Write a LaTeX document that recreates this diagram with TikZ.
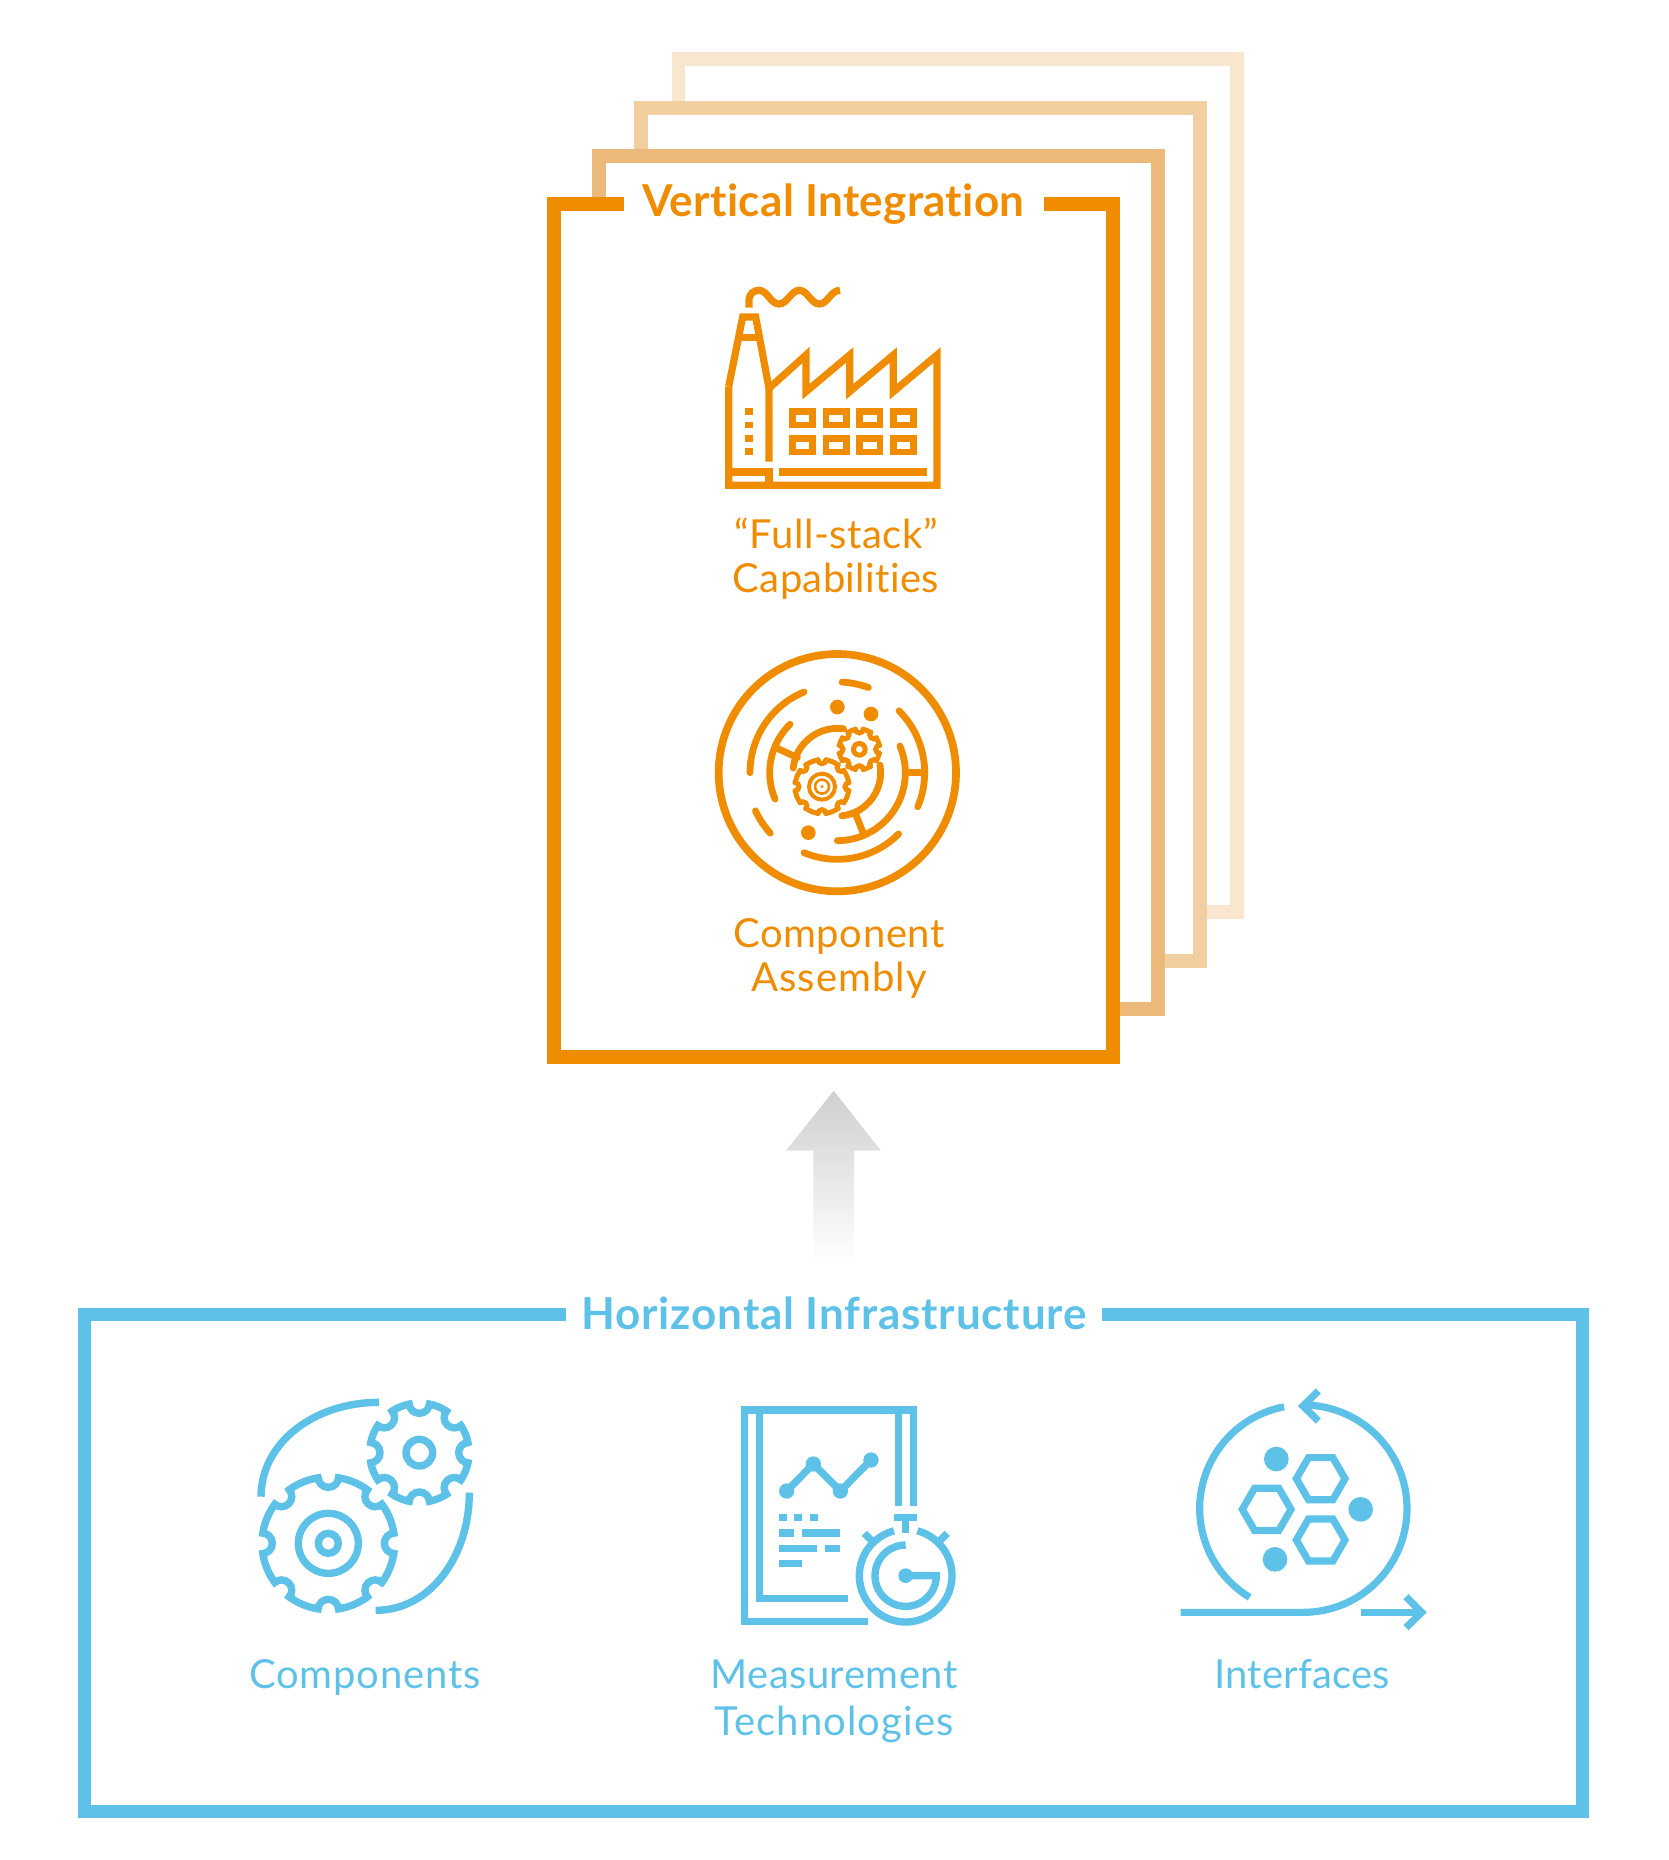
\documentclass[tikz,border=0pt]{standalone}
\usepackage{fontspec}
\setmainfont[Ligatures=NoCommon]{Lato}
\definecolor{orA}{HTML}{EF8C00}
\definecolor{orB}{HTML}{EBB97A}
\definecolor{orC}{HTML}{F1CFA0}
\definecolor{orD}{HTML}{F9E6CF}
\definecolor{bl}{HTML}{5DC1E8}
\definecolor{arrowgray}{HTML}{CFCFCF}
\newcommand{\lsp}[1]{\addfontfeature{LetterSpace=#1}}
\tikzset{
  frameline/.style={line width=13.6pt,miter limit=10},
  blueframe/.style={line width=12.8pt,color=bl},
  titletext/.style={anchor=base,font=\fontsize{44}{44}\selectfont\bfseries},
  labeltext/.style={anchor=base,font=\fontsize{40}{40}\selectfont},
  zoomed/.style={x=0.33333pt,y=-0.33333pt},
}
% arc with on-screen angles (y axis flipped)
\newcommand{\carc}[6][]{\draw[#1] ([shift={(#2,#3)}]-#5:#4) arc[start angle=-#5,end angle=-#6,radius=#4];}
% gear: cx cy R halfgap n
\newcommand{\geargl}[6][]{%
  \pgfmathsetmacro{\gd}{asin(#5/#4)}%
  \foreach \ang in {0,45,...,315}{%
    \pgfmathsetmacro{\ga}{\ang+\gd}%
    \pgfmathsetmacro{\gb}{\ang+45-\gd}%
    \pgfmathsetmacro{\gc}{\ang+90}%
    \pgfmathsetmacro{\ge}{\ang+270}%
    \draw[#1] ([shift={(#2,#3)}]\ga:#4) arc[start angle=\ga,end angle=\gb,radius=#4];
    \draw[#1] ([shift={(#2,#3)}]\ang:#4) ++(\gc:#6) arc[start angle=\gc,end angle=\ge,radius=#6];
  }}
\newcommand{\hexgl}[3]{\draw[miter limit=10] (#1+#3,#2) -- (#1+#3/2,#2+0.866*#3) -- (#1-#3/2,#2+0.866*#3) -- (#1-#3,#2) -- (#1-#3/2,#2-0.866*#3) -- (#1+#3/2,#2-0.866*#3) -- cycle;}
\begin{document}
\begin{tikzpicture}[x=1pt,y=-1pt]
\useasboundingbox (0,0) rectangle (1668,1860);
% stacked frames
\draw[frameline,orD,fill=white] (678.3,58.8) rectangle (1237,912);
\draw[frameline,orC,fill=white] (640.8,108) rectangle (1199.7,961);
\draw[frameline,orB,fill=white] (598.8,155.8) rectangle (1157.8,1008.8);
\fill[white] (554,203.8) rectangle (1113,1056.8);
\fill[white] (600,190) rectangle (1060,215);
\draw[frameline,orB] (592,155.8) -- (598.8,155.8) -- (598.8,197);
\draw[frameline,orA] (624.3,203.8) -- (554,203.8) -- (554,1056.8) -- (1113,1056.8) -- (1113,203.8) -- (1044,203.8);
\node[titletext,text=orA] (vtitle) at (833.5,216.5) {\lsp{0.8}Vertical Integration};
% factory
\begin{scope}[shift={(680,260)},zoomed,color=orA,line width=7.2pt,miter limit=10]
  \draw (146,380) -- (188,171) -- (227,171) -- (267,385) -- (267,605);
  \draw (146,380) -- (146,676) -- (771,676) -- (771,285) -- (640,395) -- (640,285) -- (509,395) -- (509,285) -- (378,395) -- (378,285) -- (267,385);
  \draw (180,232) -- (236,232);
  \draw (146,636) -- (267,636);
  \draw (267,625) -- (267,676);
  \draw (297,636) -- (742,636);
  \foreach \dy in {444,485,525,565} \fill (196,\dy) rectangle (218,\dy+20);
  \foreach \wx in {337,438,539,640} \foreach \wy in {454,535} \draw[line width=6.8pt] (\wx,\wy) rectangle (\wx+61,\wy+41);
  \draw (207,143) -- (207,122) .. controls (207,100) and (222,91) .. (237,91) .. controls (262,91) and (272,132) .. (297,132) .. controls (322,132) and (333,91) .. (358,91) .. controls (383,91) and (393,132) .. (418,132) .. controls (443,132) and (452,91) .. (480,91);
\end{scope}
\node[labeltext,text=orA] (fs1) at (836,548.5) {\lsp{1.35}“Full-stack”};
\node[labeltext,text=orA] (fs2) at (836,592) {\lsp{0.9}Capabilities};
% assembly icon
\begin{scope}[shift={(690,630)},zoomed,color=orA]
  \draw[line width=7.7pt] (442,428) circle[radius=356];
  \begin{scope}[line width=6.8pt,line cap=round]
    \carc{442}{428}{262}{112.4}{180}
    \carc{442}{428}{272}{87}{70}
    \carc{442}{428}{262}{45}{-23}
    \carc{442}{428}{271}{222}{205}
    \carc{442}{428}{260}{247.4}{315}
    \carc{442}{428}{203}{134.4}{203}
    \carc{442}{428}{204}{23}{-90}
    \carc{442}{428}{133}{82}{174}
    \carc{442}{428}{130}{10}{-84}
    \draw (262,355) -- (322,383);
    \draw (645,428) -- (700,428);
    \draw (497,553) -- (520,610);
  \end{scope}
  \foreach \px/\py in {442/231,543/252,355/608} \fill (\px,\py) circle[radius=22];
  \geargl[line width=5pt,line cap=round]{396}{470}{81}{12}{12}
  \geargl[line width=5pt,line cap=round]{508}{358}{61}{12}{12}
  \draw[line width=4pt] (396,470) circle[radius=39];
  \draw[line width=2.6pt] (396,470) circle[radius=21];
  \fill (396,470) circle[radius=5];
  \draw[line width=5pt] (508,358) circle[radius=17.5];
\end{scope}
\node[labeltext,text=orA] (ca1) at (839,947.5) {\lsp{1.4}Component};
\node[labeltext,text=orA] (ca2) at (839,991.5) {\lsp{2.5}Assembly};
% arrow
\shade[top color=arrowgray,bottom color=white] (833.7,1090.7) -- (881,1150.7) -- (854,1150.7) -- (854,1262) -- (813.3,1262) -- (813.3,1150.7) -- (786,1150.7) -- cycle;
% blue frame
\draw[blueframe] (566.4,1314.3) -- (84.8,1314.3) -- (84.8,1811.3) -- (1582.7,1811.3) -- (1582.7,1314.3) -- (1102,1314.3);
\node[titletext,text=bl] (htitle) at (834,1329) {\lsp{1.9}Horizontal Infrastructure};
% components icon
\begin{scope}[shift={(240,1380)},zoomed,color=bl,line width=7.4pt]
  \draw (63,350) .. controls (63,190) and (220,67) .. (417,67);
  \draw (688,338) .. controls (688,530) and (570,691) .. (407,691);
  \geargl[line width=7.4pt]{265}{490}{199}{20}{31}
  \geargl[line width=7.4pt]{538}{218}{149}{20}{31}
  \draw (265,490) circle[radius=90];
  \draw (265,490) circle[radius=30];
  \draw (538,218) circle[radius=40];
\end{scope}
\node[labeltext,text=bl] (cp) at (365,1688) {\lsp{2}Components};
% measurement icon
\begin{scope}[shift={(720,1390)},zoomed,color=bl,line width=7.4pt,miter limit=10]
  \draw (443,695) -- (73,695) -- (73,60) -- (580,60) -- (580,349);
  \draw (385,625) -- (119,625) -- (119,60);
  \draw (535,60) -- (535,349);
  \draw (522,383) -- (592,383);
  \draw (557,383) -- (557,430);
  \draw (200,303) -- (280,222) -- (361,303) -- (453,210);
  \foreach \px/\py in {200/303,280/222,361/303,453/210} \fill (\px,\py) circle[radius=23];
  \foreach \rx/\ry/\rw in {177/372/23,223/372/24,269/372/24,177/418/46,245/418/116,177/464/115,315/464/46,177/510/69} \fill (\rx,\ry) rectangle (\rx+\rw,\ry+22);
  \carc{557}{557}{139}{75.4}{-255.4}
  \draw (433,430) -- (455,452);
  \draw (682,430) -- (660,452);
  \draw (557,465) arc[start angle=-90,end angle=-360,radius=92] -- (557,557);
  \fill (557,557) circle[radius=22];
\end{scope}
\node[labeltext,text=bl] (mt1) at (834,1688) {\lsp{1.1}Measurement};
\node[labeltext,text=bl] (mt2) at (834,1735) {\lsp{2.8}Technologies};
% interfaces icon
\begin{scope}[shift={(1160,1380)},zoomed,color=bl,line width=7.2pt,miter limit=10]
  \draw (62,697) -- (430,697) arc[start angle=90,end angle=-90,radius=311];
  \carc{430}{386}{311}{100.7}{238.8}
  \draw (475,33) -- (429,78) -- (475,123);
  \draw (602,697) -- (785,697);
  \draw (738,650) -- (785,697) -- (738,743);
  \hexgl{482}{296}{73}
  \hexgl{320}{388}{73}
  \hexgl{482}{480}{73}
  \foreach \px/\py in {349/237,602/388,345/538} \fill (\px,\py) circle[radius=37];
\end{scope}
\node[labeltext,text=bl] (ifc) at (1302,1688) {\lsp{0.4}Interfaces};
\end{tikzpicture}
\end{document}
